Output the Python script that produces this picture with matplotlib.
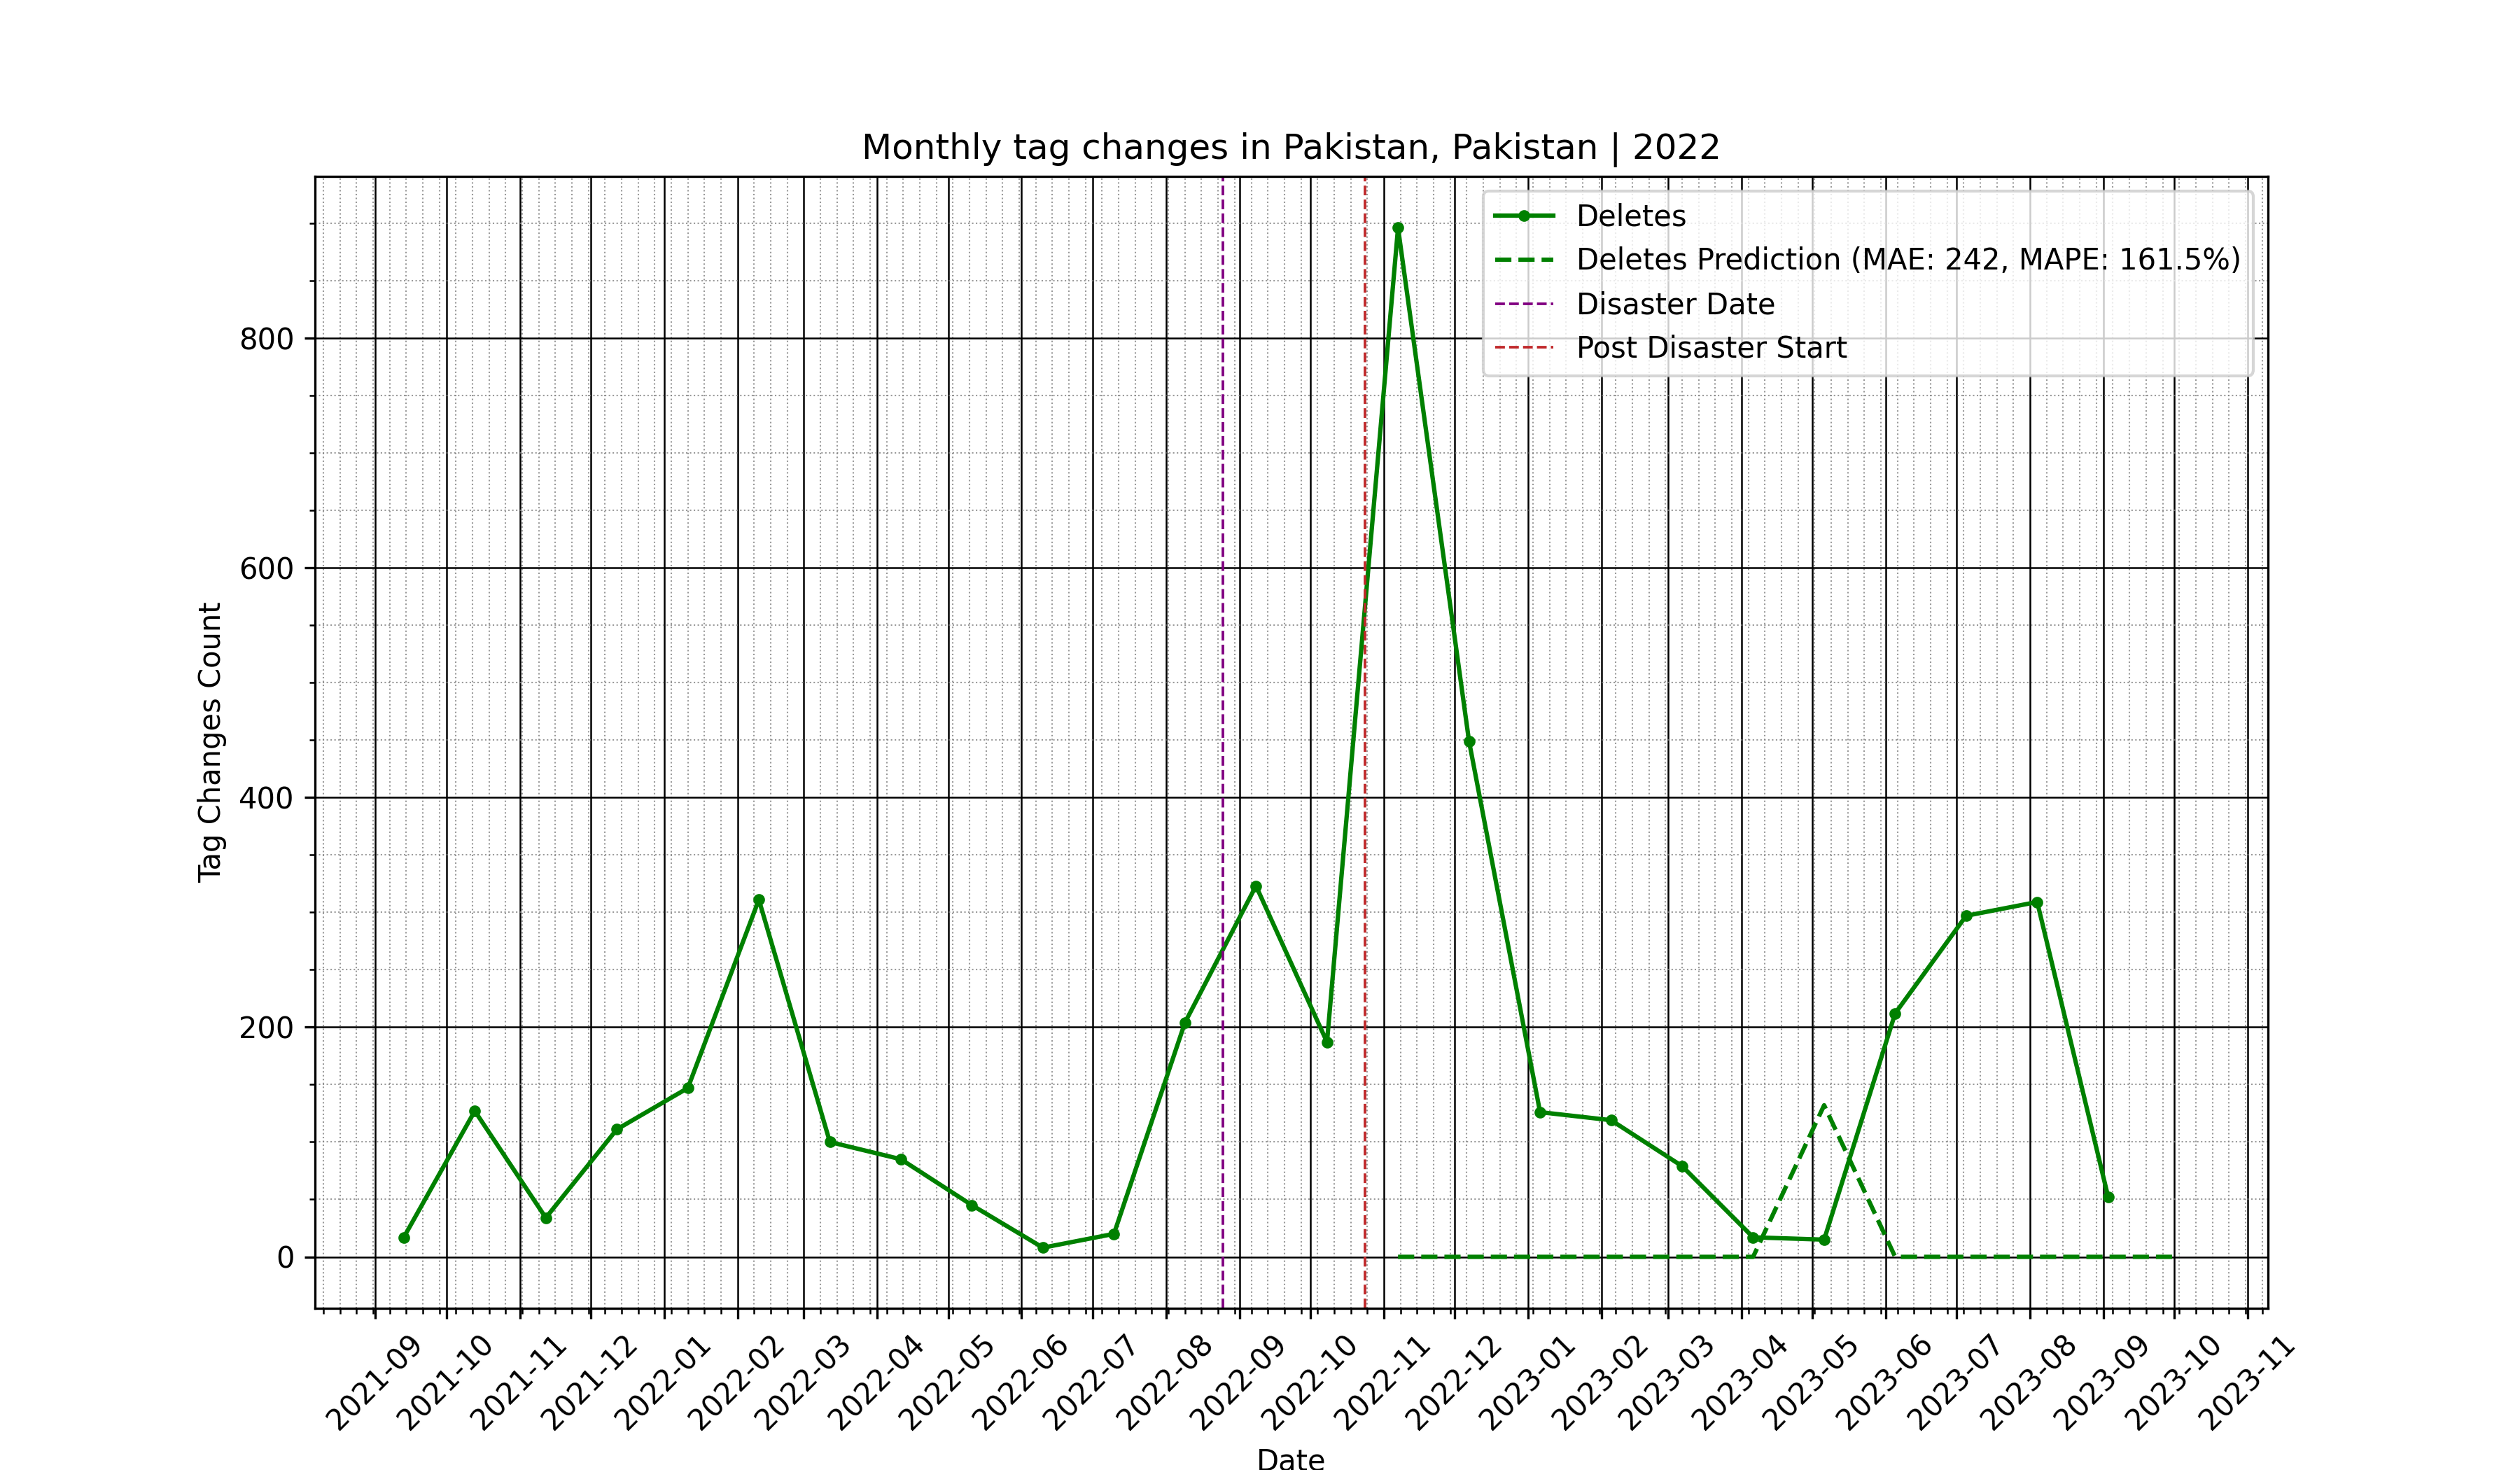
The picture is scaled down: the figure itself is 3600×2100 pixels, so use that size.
import matplotlib
matplotlib.use("Agg")
import matplotlib.pyplot as plt
import matplotlib.dates as mdates
import numpy as np
import pandas as pd

start_date = "2021-09-13"
deletes = [17,127,34,111,147,311,100,85,45,8,20,204,323,187,896,449,126,119,79,17,15,212,297,309,52]
pred_start_index = 14
pred_values = [0,0,0,0,0,0,132,0,0,0,0,0]
disaster_date = "2022-08-25"
post_start = "2022-10-24"

dates = pd.date_range(start_date, periods=len(deletes), freq="30D")
pred_dates = pd.date_range(dates[pred_start_index], periods=len(pred_values), freq="30D")

fig, ax = plt.subplots(figsize=(12, 7), dpi=300)
ax.plot(dates, deletes, color="green", marker="o", markersize=3, linewidth=1.5, label="Deletes")
ax.plot(pred_dates, pred_values, color="green", linestyle="--", linewidth=1.5,
        label="Deletes Prediction (MAE: 242, MAPE: 161.5%)")
ax.axvline(pd.Timestamp(disaster_date), color="purple", linestyle="--", linewidth=0.9, label="Disaster Date")
ax.axvline(pd.Timestamp(post_start), color="#c0282a", linestyle="--", linewidth=0.9, label="Post Disaster Start")

ax.xaxis.set_major_locator(mdates.MonthLocator())
ax.xaxis.set_major_formatter(mdates.DateFormatter("%Y-%m"))
ax.xaxis.set_minor_locator(mdates.WeekdayLocator())
ax.yaxis.set_major_locator(plt.MultipleLocator(200))
ax.yaxis.set_minor_locator(plt.MultipleLocator(50))
ax.grid(which="major", color="black", linestyle="-", linewidth=0.6)
ax.grid(which="minor", color="gray", linestyle=":", linewidth=0.5, alpha=0.8)
plt.setp(ax.get_xticklabels(), rotation=45)
ax.set_title("Monthly tag changes in Pakistan, Pakistan | 2022")
ax.set_xlabel("Date")
ax.set_ylabel("Tag Changes Count")
ax.legend(loc="upper right")
fig.savefig("out.png")
